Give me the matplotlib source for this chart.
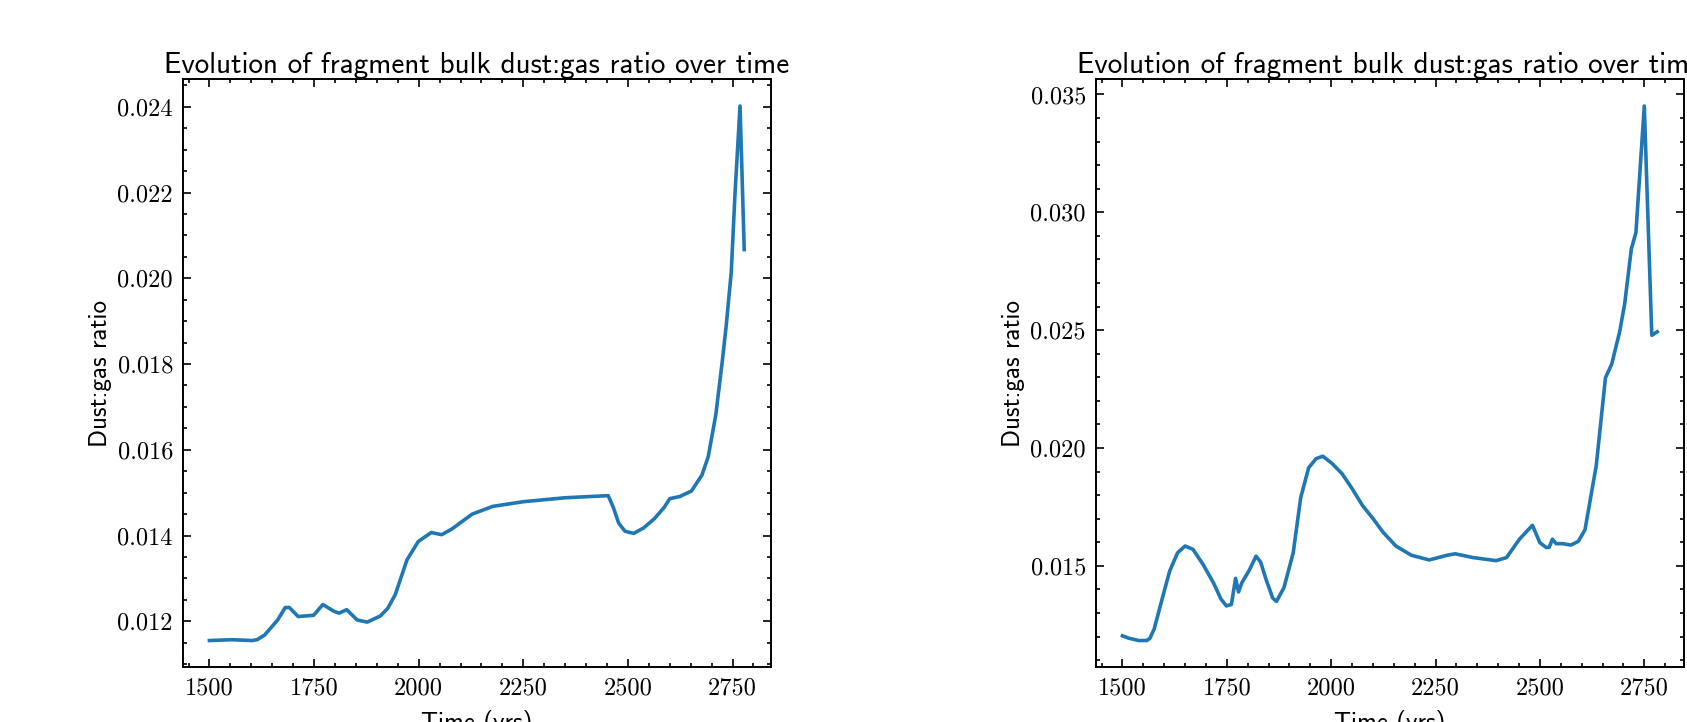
import matplotlib
matplotlib.use("Agg")
import matplotlib.pyplot as plt
from matplotlib.ticker import AutoMinorLocator, MultipleLocator, FormatStrFormatter

# fragment 1 (left panel)
t_left = [1500, 1553, 1602, 1614, 1632, 1663, 1681, 1691, 1712, 1749, 1771, 1798,
          1810, 1828, 1853, 1877, 1908, 1926, 1944, 1972, 1999, 2030, 2055, 2079,
          2128, 2177, 2251, 2349, 2410, 2453, 2465, 2478, 2493, 2514, 2538, 2563,
          2587, 2600, 2624, 2652, 2677, 2692, 2710, 2726, 2735, 2747, 2756, 2768, 2778]
ratio_left = [0.01155, 0.01157, 0.01155, 0.01157, 0.01168, 0.01203, 0.01232, 0.01232,
              0.01211, 0.01214, 0.01239, 0.01223, 0.01219, 0.01227, 0.01203, 0.01198,
              0.01212, 0.01230, 0.01262, 0.01343, 0.01386, 0.01407, 0.01402, 0.01415,
              0.01450, 0.01468, 0.01479, 0.01488, 0.01491, 0.01493, 0.01466, 0.01429,
              0.01410, 0.01405, 0.01418, 0.01439, 0.01466, 0.01486, 0.01491, 0.01504,
              0.01541, 0.01584, 0.01681, 0.01810, 0.01890, 0.02014, 0.02198, 0.02402, 0.02067]

# fragment 2 (right panel)
t_right = [1500, 1515, 1539, 1558, 1566, 1576, 1595, 1613, 1632, 1650, 1669, 1693,
           1718, 1736, 1749, 1761, 1771, 1778, 1786, 1804, 1820, 1831, 1845, 1860,
           1869, 1887, 1909, 1927, 1946, 1964, 1980, 2001, 2026, 2050, 2075, 2100,
           2124, 2155, 2192, 2235, 2278, 2297, 2340, 2395, 2420, 2451, 2482, 2500,
           2515, 2522, 2530, 2539, 2555, 2574, 2592, 2608, 2635, 2657, 2672, 2691,
           2703, 2719, 2730, 2750, 2768, 2781]
ratio_right = [0.01203, 0.01193, 0.01183, 0.01183, 0.01193, 0.01232, 0.01359, 0.01477,
               0.01555, 0.01584, 0.01570, 0.01506, 0.01428, 0.01359, 0.01330, 0.01336,
               0.01447, 0.01389, 0.01428, 0.01482, 0.01541, 0.01516, 0.01437, 0.01363,
               0.01349, 0.01408, 0.01555, 0.01789, 0.01916, 0.01955, 0.01965, 0.01936,
               0.01891, 0.01828, 0.01756, 0.01701, 0.01643, 0.01584, 0.01545, 0.01525,
               0.01545, 0.01551, 0.01535, 0.01522, 0.01535, 0.01613, 0.01672, 0.01598,
               0.01578, 0.01578, 0.01613, 0.01594, 0.01594, 0.01588, 0.01604, 0.01653,
               0.01926, 0.02298, 0.02356, 0.02493, 0.02611, 0.02845, 0.02914, 0.03451,
               0.02478, 0.02493]

title = "Evolution of fragment bulk dust:gas ratio over time"
line_color = "#1f77b4"

fig = plt.figure(figsize=(16.87, 7.22), dpi=100)
ax1 = fig.add_axes([0.1083, 0.0758, 0.3487, 0.8144])
ax2 = fig.add_axes([0.6495, 0.0758, 0.3487, 0.8144])

for ax, t, r in [(ax1, t_left, ratio_left), (ax2, t_right, ratio_right)]:
    ax.plot(t, r, color=line_color, lw=2.6)
    ax.set_title(title, fontfamily="cmss10", fontsize=21, pad=3)
    ax.set_xlabel("Time (yrs)", fontfamily="cmss10", fontsize=18, labelpad=8)
    ax.set_ylabel("Dust:gas ratio", fontfamily="cmss10", fontsize=18)
    ax.xaxis.set_major_locator(MultipleLocator(250))
    ax.xaxis.set_minor_locator(AutoMinorLocator())
    ax.yaxis.set_minor_locator(AutoMinorLocator())
    ax.yaxis.set_major_formatter(FormatStrFormatter("%.3f"))
    ax.tick_params(which="both", direction="in", top=True, right=True, width=1.2)
    ax.tick_params(which="major", length=6, pad=7)
    ax.tick_params(which="minor", length=3)
    for lab in ax.get_xticklabels() + ax.get_yticklabels():
        lab.set_fontfamily("cmr10")
        lab.set_fontsize(17.5)
    for s in ax.spines.values():
        s.set_linewidth(1.4)

ax1.yaxis.set_major_locator(MultipleLocator(0.002))
ax2.yaxis.set_major_locator(MultipleLocator(0.005))

fig.savefig("out.png", dpi=100)
